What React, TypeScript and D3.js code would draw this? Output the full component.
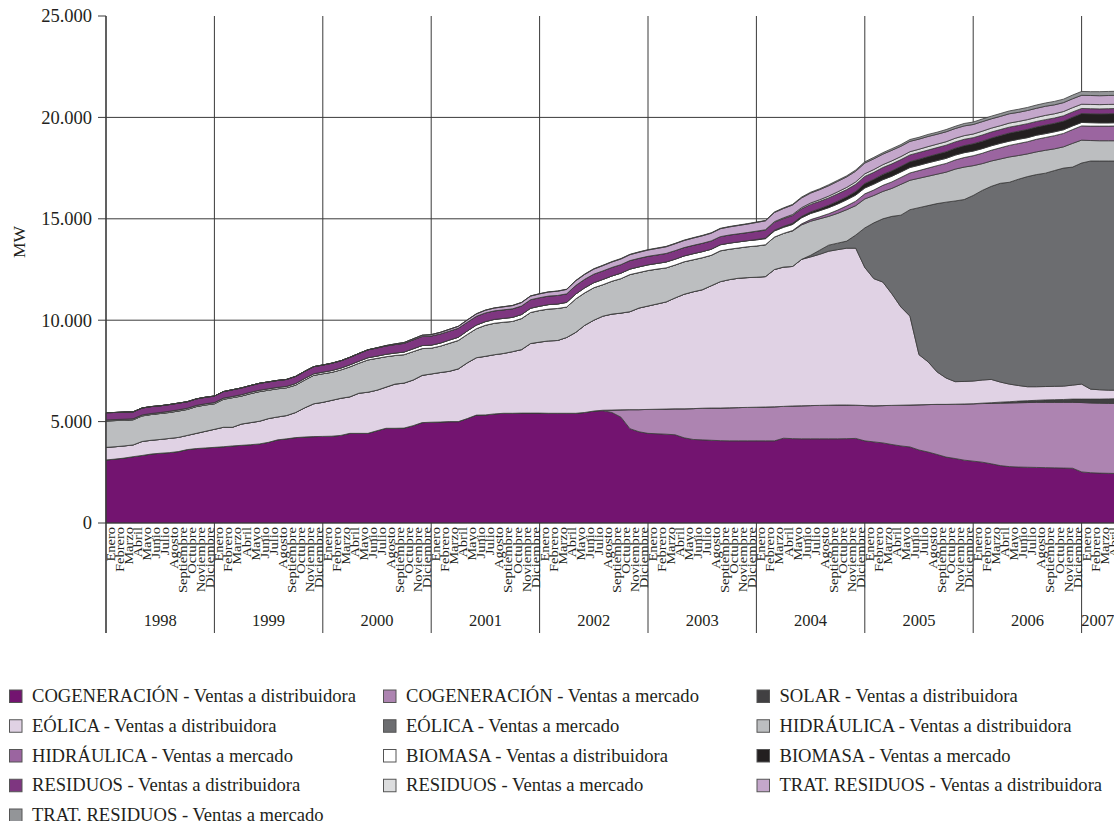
import React from 'react';
import * as d3 from 'd3';

const MONTHS = ['Enero', 'Febrero', 'Marzo', 'Abril', 'Mayo', 'Junio', 'Julio', 'Agosto', 'Septiembre', 'Octubre', 'Noviembre', 'Diciembre'];
const YEARS = ['1998', '1999', '2000', '2001', '2002', '2003', '2004', '2005', '2006', '2007'];
const Y_TICKS = [0, 5, 10, 15, 20, 25];
const Y_TICK_LABELS = ['0', '5.000', '10.000', '15.000', '20.000', '25.000'];

const SERIES_NAMES = [
  'COGENERACIÓN - Ventas a distribuidora',
  'COGENERACIÓN - Ventas a mercado',
  'SOLAR - Ventas a distribuidora',
  'EÓLICA - Ventas a distribuidora',
  'EÓLICA - Ventas a mercado',
  'HIDRÁULICA - Ventas a distribuidora',
  'HIDRÁULICA - Ventas a mercado',
  'BIOMASA - Ventas a distribuidora',
  'BIOMASA - Ventas a mercado',
  'RESIDUOS - Ventas a distribuidora',
  'RESIDUOS - Ventas a mercado',
  'TRAT. RESIDUOS - Ventas a distribuidora',
  'TRAT. RESIDUOS - Ventas a mercado',
];
const COLORS = ['#731470', '#ad84b1', '#414042', '#e0d2e4', '#6c6d70', '#bcbec0', '#9b65a0', '#ffffff', '#231f20', '#7e3680', '#dcddde', '#c4a7cb', '#939598'];

// values in thousands of MW, monthly from Enero 1998
const cogenDist = [
  3.11, 3.15, 3.20, 3.27, 3.33, 3.40, 3.44, 3.47, 3.52, 3.62, 3.67, 3.70,
  3.73, 3.76, 3.80, 3.83, 3.86, 3.90, 3.98, 4.10, 4.15, 4.21, 4.24, 4.26,
  4.27, 4.28, 4.32, 4.42, 4.42, 4.42, 4.55, 4.67, 4.67, 4.68, 4.80, 4.95,
  4.97, 4.98, 5.00, 5.00, 5.15, 5.32, 5.33, 5.38, 5.41, 5.41, 5.42, 5.42,
  5.42, 5.41, 5.41, 5.41, 5.41, 5.45, 5.52, 5.54, 5.45, 5.22, 4.65, 4.50,
  4.42, 4.40, 4.38, 4.35, 4.20, 4.12, 4.10, 4.08, 4.06, 4.05, 4.05, 4.05,
  4.05, 4.05, 4.05, 4.18, 4.16, 4.15, 4.15, 4.15, 4.15, 4.15, 4.16, 4.17,
  4.05, 4.00, 3.95, 3.87, 3.80, 3.75, 3.60, 3.50, 3.38, 3.25, 3.18, 3.10,
  3.05, 3.00, 2.92, 2.83, 2.78, 2.76, 2.75, 2.74, 2.73, 2.72, 2.71, 2.70,
  2.52, 2.48, 2.46, 2.45, 2.44,
];
const cogenMerc = [
  0, 0, 0, 0, 0, 0, 0, 0, 0, 0, 0, 0,
  0, 0, 0, 0, 0, 0, 0, 0, 0, 0, 0, 0,
  0, 0, 0, 0, 0, 0, 0, 0, 0, 0, 0, 0,
  0, 0, 0, 0, 0, 0, 0, 0, 0, 0, 0, 0,
  0, 0, 0, 0, 0, 0, 0, 0.02, 0.12, 0.36, 0.94, 1.09,
  1.18, 1.21, 1.24, 1.28, 1.43, 1.52, 1.56, 1.59, 1.61, 1.63, 1.64, 1.65,
  1.66, 1.67, 1.68, 1.57, 1.61, 1.63, 1.64, 1.65, 1.66, 1.67, 1.66, 1.64,
  1.74, 1.78, 1.84, 1.93, 2.01, 2.07, 2.23, 2.34, 2.47, 2.60, 2.68, 2.77,
  2.83, 2.89, 2.98, 3.08, 3.14, 3.17, 3.19, 3.21, 3.22, 3.23, 3.24, 3.25,
  3.42, 3.44, 3.45, 3.45, 3.46,
];
const solarDist = [
  0, 0, 0, 0, 0, 0, 0, 0, 0, 0, 0, 0,
  0, 0, 0, 0, 0, 0, 0, 0, 0, 0, 0, 0,
  0, 0, 0, 0, 0, 0, 0, 0, 0, 0, 0, 0,
  0, 0, 0, 0, 0, 0, 0, 0, 0, 0, 0, 0,
  0, 0, 0, 0, 0, 0, 0, 0, 0, 0, 0, 0,
  0, 0, 0, 0, 0, 0, 0, 0, 0, 0, 0, 0,
  0, 0, 0, 0, 0, 0, 0, 0, 0, 0, 0, 0,
  0, 0, 0, 0, 0, 0, 0, 0, 0, 0, 0, 0,
  0, 0.02, 0.03, 0.05, 0.06, 0.08, 0.09, 0.10, 0.12, 0.13, 0.14, 0.16,
  0.17, 0.19, 0.20, 0.22, 0.23,
];
const eolicaDist = [
  0.62, 0.61, 0.60, 0.58, 0.69, 0.68, 0.68, 0.70, 0.70, 0.70, 0.75, 0.82,
  0.89, 0.96, 0.92, 1.05, 1.09, 1.12, 1.17, 1.13, 1.15, 1.24, 1.44, 1.62,
  1.68, 1.77, 1.83, 1.80, 1.98, 2.03, 2.00, 2.03, 2.18, 2.22, 2.25, 2.33,
  2.38, 2.44, 2.48, 2.60, 2.75, 2.83, 2.89, 2.92, 2.95, 3.04, 3.13, 3.43,
  3.50, 3.57, 3.59, 3.74, 3.99, 4.30, 4.48, 4.64, 4.73, 4.77, 4.83, 5.01,
  5.10, 5.19, 5.28, 5.47, 5.65, 5.76, 5.84, 6.03, 6.23, 6.32, 6.38, 6.40,
  6.41, 6.43, 6.77, 6.87, 6.88, 7.22, 7.33, 7.45, 7.59, 7.66, 7.73, 7.74,
  6.81, 6.27, 6.09, 5.50, 4.84, 4.38, 2.47, 2.11, 1.60, 1.30, 1.11, 1.11,
  1.12, 1.14, 1.15, 0.99, 0.87, 0.77, 0.69, 0.67, 0.66, 0.66, 0.66, 0.69,
  0.74, 0.49, 0.46, 0.43, 0.42,
];
const eolicaMerc = [
  0, 0, 0, 0, 0, 0, 0, 0, 0, 0, 0, 0,
  0, 0, 0, 0, 0, 0, 0, 0, 0, 0, 0, 0,
  0, 0, 0, 0, 0, 0, 0, 0, 0, 0, 0, 0,
  0, 0, 0, 0, 0, 0, 0, 0, 0, 0, 0, 0,
  0, 0, 0, 0, 0, 0, 0, 0, 0, 0, 0, 0,
  0, 0, 0, 0, 0, 0, 0, 0, 0, 0, 0, 0,
  0, 0, 0, 0, 0, 0, 0.08, 0.20, 0.30, 0.32, 0.35, 0.65,
  1.95, 2.75, 3.12, 3.82, 4.53, 5.25, 7.25, 7.70, 8.30, 8.67, 8.91, 8.97,
  9.15, 9.35, 9.52, 9.80, 9.95, 10.17, 10.36, 10.46, 10.52, 10.64, 10.75, 10.75,
  10.90, 11.25, 11.28, 11.30, 11.30,
];
const hidraDist = [
  1.30, 1.29, 1.27, 1.24, 1.26, 1.27, 1.28, 1.28, 1.30, 1.28, 1.32, 1.30,
  1.26, 1.38, 1.46, 1.38, 1.43, 1.46, 1.40, 1.39, 1.37, 1.35, 1.37, 1.40,
  1.41, 1.38, 1.40, 1.48, 1.48, 1.59, 1.57, 1.50, 1.41, 1.40, 1.40, 1.32,
  1.27, 1.30, 1.38, 1.40, 1.40, 1.43, 1.53, 1.55, 1.54, 1.49, 1.53, 1.53,
  1.56, 1.57, 1.58, 1.50, 1.65, 1.60, 1.60, 1.55, 1.62, 1.70, 1.83, 1.75,
  1.75, 1.72, 1.68, 1.62, 1.60, 1.58, 1.58, 1.50, 1.52, 1.50, 1.49, 1.52,
  1.54, 1.57, 1.60, 1.66, 1.75, 1.70, 1.68, 1.55, 1.42, 1.47, 1.55, 1.45,
  1.43, 1.35, 1.35, 1.38, 1.52, 1.45, 1.45, 1.45, 1.45, 1.48, 1.57, 1.60,
  1.47, 1.32, 1.25, 1.20, 1.25, 1.17, 1.12, 1.12, 1.13, 1.07, 1.05, 1.17,
  1.13, 1.01, 1.00, 1.00, 1.00,
];
const hidraMerc = [
  0, 0, 0, 0, 0, 0, 0, 0, 0, 0, 0, 0,
  0, 0, 0, 0, 0, 0, 0, 0, 0, 0, 0, 0,
  0, 0, 0, 0, 0, 0, 0, 0, 0, 0, 0, 0,
  0, 0, 0, 0, 0, 0, 0, 0, 0, 0, 0, 0,
  0, 0, 0, 0, 0, 0, 0, 0, 0, 0, 0, 0,
  0, 0, 0, 0, 0, 0, 0, 0, 0, 0, 0, 0,
  0, 0, 0, 0, 0.02, 0.05, 0.08, 0.10, 0.13, 0.16, 0.19, 0.22,
  0.25, 0.27, 0.30, 0.32, 0.34, 0.36, 0.38, 0.40, 0.42, 0.43, 0.45, 0.47,
  0.49, 0.51, 0.53, 0.55, 0.57, 0.59, 0.60, 0.62, 0.63, 0.65, 0.66, 0.68,
  0.70, 0.71, 0.72, 0.72, 0.73,
];
const biomasaDist = [
  0.05, 0.05, 0.05, 0.05, 0.05, 0.05, 0.05, 0.06, 0.06, 0.06, 0.06, 0.06,
  0.06, 0.06, 0.06, 0.07, 0.07, 0.07, 0.07, 0.07, 0.07, 0.08, 0.08, 0.08,
  0.08, 0.09, 0.09, 0.10, 0.10, 0.11, 0.11, 0.12, 0.12, 0.13, 0.14, 0.15,
  0.15, 0.15, 0.16, 0.16, 0.17, 0.18, 0.18, 0.19, 0.19, 0.20, 0.20, 0.21,
  0.21, 0.22, 0.22, 0.23, 0.24, 0.25, 0.25, 0.26, 0.26, 0.27, 0.27, 0.28,
  0.28, 0.28, 0.29, 0.29, 0.29, 0.30, 0.30, 0.30, 0.30, 0.30, 0.30, 0.30,
  0.30, 0.30, 0.30, 0.30, 0.30, 0.30, 0.30, 0.30, 0.30, 0.30, 0.30, 0.30,
  0.29, 0.29, 0.28, 0.28, 0.27, 0.27, 0.26, 0.26, 0.25, 0.25, 0.24, 0.24,
  0.23, 0.23, 0.22, 0.22, 0.21, 0.21, 0.20, 0.20, 0.19, 0.19, 0.18, 0.18,
  0.17, 0.17, 0.16, 0.16, 0.16,
];
const biomasaMerc = [
  0, 0, 0, 0, 0, 0, 0, 0, 0, 0, 0, 0,
  0, 0, 0, 0, 0, 0, 0, 0, 0, 0, 0, 0,
  0, 0, 0, 0, 0, 0, 0, 0, 0, 0, 0, 0,
  0, 0, 0, 0, 0, 0, 0, 0, 0, 0, 0, 0,
  0, 0, 0, 0, 0, 0, 0, 0, 0, 0, 0, 0,
  0, 0, 0, 0, 0, 0, 0, 0, 0, 0, 0, 0,
  0.02, 0.03, 0.04, 0.05, 0.06, 0.07, 0.08, 0.10, 0.12, 0.14, 0.15, 0.18,
  0.22, 0.24, 0.26, 0.27, 0.28, 0.29, 0.30, 0.31, 0.32, 0.33, 0.34, 0.35,
  0.36, 0.37, 0.38, 0.39, 0.40, 0.40, 0.41, 0.41, 0.42, 0.42, 0.43, 0.43,
  0.44, 0.44, 0.44, 0.45, 0.45,
];
const residuosDist = [
  0.36, 0.35, 0.35, 0.34, 0.34, 0.34, 0.33, 0.33, 0.33, 0.32, 0.32, 0.32,
  0.32, 0.32, 0.33, 0.33, 0.33, 0.34, 0.34, 0.34, 0.34, 0.35, 0.35, 0.35,
  0.35, 0.36, 0.36, 0.37, 0.38, 0.39, 0.40, 0.41, 0.42, 0.43, 0.44, 0.45,
  0.45, 0.45, 0.44, 0.44, 0.43, 0.43, 0.43, 0.42, 0.42, 0.42, 0.42, 0.42,
  0.42, 0.42, 0.42, 0.42, 0.42, 0.42, 0.42, 0.42, 0.42, 0.42, 0.42, 0.42,
  0.42, 0.42, 0.42, 0.42, 0.41, 0.41, 0.41, 0.41, 0.40, 0.40, 0.40, 0.40,
  0.40, 0.39, 0.39, 0.38, 0.38, 0.37, 0.37, 0.36, 0.36, 0.36, 0.35, 0.35,
  0.35, 0.34, 0.34, 0.34, 0.33, 0.33, 0.33, 0.32, 0.32, 0.32, 0.31, 0.31,
  0.30, 0.30, 0.30, 0.29, 0.29, 0.28, 0.28, 0.27, 0.27, 0.26, 0.26, 0.26,
  0.25, 0.25, 0.25, 0.25, 0.25,
];
const residuosMerc = [
  0, 0, 0, 0, 0, 0, 0, 0, 0, 0, 0, 0,
  0, 0, 0, 0, 0, 0, 0, 0, 0, 0, 0, 0,
  0, 0, 0, 0, 0, 0, 0, 0, 0, 0, 0, 0,
  0, 0, 0, 0, 0, 0, 0, 0, 0, 0, 0, 0,
  0, 0, 0, 0, 0, 0, 0, 0, 0, 0, 0, 0,
  0, 0, 0, 0, 0, 0, 0, 0, 0, 0, 0, 0,
  0.01, 0.02, 0.03, 0.04, 0.05, 0.06, 0.07, 0.08, 0.09, 0.10, 0.11, 0.12,
  0.13, 0.14, 0.14, 0.15, 0.15, 0.16, 0.16, 0.17, 0.17, 0.17, 0.18, 0.18,
  0.18, 0.19, 0.19, 0.19, 0.20, 0.20, 0.20, 0.20, 0.21, 0.21, 0.21, 0.21,
  0.21, 0.21, 0.21, 0.21, 0.21,
];
const tratDist = [
  0, 0, 0, 0, 0, 0, 0, 0, 0, 0, 0, 0,
  0, 0, 0, 0, 0, 0, 0, 0, 0, 0, 0, 0,
  0, 0, 0, 0, 0, 0, 0.01, 0.02, 0.03, 0.04, 0.05, 0.06,
  0.07, 0.08, 0.09, 0.10, 0.11, 0.12, 0.13, 0.14, 0.15, 0.16, 0.17, 0.18,
  0.19, 0.20, 0.21, 0.22, 0.23, 0.24, 0.25, 0.26, 0.27, 0.28, 0.29, 0.30,
  0.31, 0.32, 0.33, 0.34, 0.35, 0.36, 0.37, 0.38, 0.39, 0.40, 0.41, 0.42,
  0.43, 0.44, 0.45, 0.46, 0.47, 0.48, 0.49, 0.50, 0.51, 0.52, 0.52, 0.53,
  0.53, 0.53, 0.52, 0.52, 0.51, 0.51, 0.50, 0.50, 0.49, 0.49, 0.48, 0.48,
  0.47, 0.47, 0.46, 0.46, 0.46, 0.45, 0.45, 0.45, 0.45, 0.44, 0.44, 0.44,
  0.44, 0.44, 0.44, 0.44, 0.44,
];
const tratMerc = [
  0, 0, 0, 0, 0, 0, 0, 0, 0, 0, 0, 0,
  0, 0, 0, 0, 0, 0, 0, 0, 0, 0, 0, 0,
  0, 0, 0, 0, 0, 0, 0, 0, 0, 0, 0, 0,
  0, 0, 0, 0, 0.01, 0.01, 0.01, 0.01, 0.01, 0.01, 0.01, 0.01,
  0.01, 0.01, 0.01, 0.01, 0.02, 0.02, 0.02, 0.02, 0.02, 0.02, 0.02, 0.02,
  0.02, 0.02, 0.02, 0.02, 0.02, 0.02, 0.02, 0.02, 0.02, 0.02, 0.02, 0.02,
  0.02, 0.02, 0.03, 0.03, 0.03, 0.04, 0.04, 0.04, 0.05, 0.05, 0.05, 0.06,
  0.06, 0.07, 0.07, 0.08, 0.08, 0.09, 0.09, 0.10, 0.10, 0.11, 0.11, 0.12,
  0.12, 0.13, 0.13, 0.14, 0.14, 0.15, 0.15, 0.16, 0.16, 0.17, 0.17, 0.18,
  0.19, 0.19, 0.20, 0.20, 0.20,
];

const SERIES = [cogenDist, cogenMerc, solarDist, eolicaDist, eolicaMerc, hidraDist, hidraMerc, biomasaDist, biomasaMerc, residuosDist, residuosMerc, tratDist, tratMerc];

const FONT = '"Liberation Serif", "Times New Roman", serif';
const INK = '#231f20';

export default function App() {
  const W = 1114;
  const H = 821;
  const plotLeft = 106;
  const yearW = 108.4;
  const axisY = 523;
  const boxBottom = 633;
  const x = d3.scaleLinear().domain([0, 12]).range([plotLeft, plotLeft + yearW]);
  const y = d3.scaleLinear().domain([0, 25]).range([axisY, 16]);
  const n = cogenDist.length;
  const keys = SERIES.map((_, j) => 's' + j);
  const rows = d3.range(n).map((i) => {
    const r: any = {};
    keys.forEach((k, j) => (r[k] = SERIES[j][i]));
    return r;
  });
  const stacked = d3.stack().keys(keys)(rows as any);
  const area = d3
    .area<any>()
    .x((_d: any, i: number) => x(i))
    .y0((d: any) => y(d[0]))
    .y1((d: any) => y(d[1]));

  const legendCols = [9.5, 383.5, 757];

  return (
    <svg width={W} height={H} style={{ position: 'absolute', left: 0, top: 0, background: '#fff' }} fontFamily={FONT}>
      <rect x={0} y={0} width={W} height={H} fill="#fff" />
      {/* horizontal grid */}
      {Y_TICKS.filter((t) => t > 0 && t < 25).map((t) => (
        <line key={'g' + t} x1={plotLeft} x2={W} y1={y(t)} y2={y(t)} stroke="#3a3a3a" strokeWidth={1} />
      ))}
      {/* vertical year lines */}
      {YEARS.map((yr, k) => (
        <line key={'v' + yr} x1={x(12 * k)} x2={x(12 * k)} y1={y(25)} y2={boxBottom} stroke="#3a3a3a" strokeWidth={1} />
      ))}
      {/* areas */}
      {stacked.map((s, j) => (
        <path key={'a' + j} d={area(s as any) || ''} fill={COLORS[j]} stroke="#3a3a3a" strokeWidth={0.8} strokeLinejoin="round" />
      ))}
      {/* axes */}
      <line x1={plotLeft} x2={plotLeft} y1={y(25)} y2={boxBottom} stroke="#3a3a3a" strokeWidth={1.2} />
      <line x1={plotLeft} x2={W} y1={axisY} y2={axisY} stroke="#3a3a3a" strokeWidth={1.2} />
      {Y_TICKS.map((t, k) => (
        <g key={'t' + t}>
          <line x1={plotLeft - 8} x2={plotLeft} y1={y(t)} y2={y(t)} stroke="#3a3a3a" strokeWidth={1} />
          <text x={plotLeft - 14} y={y(t)} dy="0.35em" textAnchor="end" fontSize={18.5} fill={INK}>
            {Y_TICK_LABELS[k]}
          </text>
        </g>
      ))}
      <text transform={`translate(25, 242) rotate(-90)`} textAnchor="middle" fontSize={17.5} fill={INK}>
        MW
      </text>
      {/* month labels (only those that fit in the picture) */}
      {d3
        .range(n)
        .filter((i) => x(i + 0.5) < W)
        .map((i) => (
          <text
            key={'m' + i}
            transform={`translate(${x(i + 0.5) + 4.5}, ${axisY + 4}) rotate(-90) scale(1, 0.8)`}
            textAnchor="end"
            fontSize={14.5}
            fill={INK}
          >
            {MONTHS[i % 12]}
          </text>
        ))}
      {/* year labels */}
      {YEARS.map((yr, k) => {
        const x0 = x(12 * k);
        const x1 = Math.min(x(12 * k + 12), W);
        return (
          <text key={'y' + yr} x={(x0 + x1) / 2} y={626} textAnchor="middle" fontSize={16.5} fill={INK}>
            {yr}
          </text>
        );
      })}
      {/* legend */}
      {SERIES_NAMES.map((name, k) => {
        const cx = legendCols[k % 3];
        const cy = 690 + Math.floor(k / 3) * 29.75;
        return (
          <g key={'l' + k}>
            <rect x={cx} y={cy} width={12.5} height={12.5} fill={COLORS[k]} stroke="#555" strokeWidth={1} />
            <text x={cx + 22.5} y={cy + 12} fontSize={18.6} fill={INK}>
              {name}
            </text>
          </g>
        );
      })}
    </svg>
  );
}
